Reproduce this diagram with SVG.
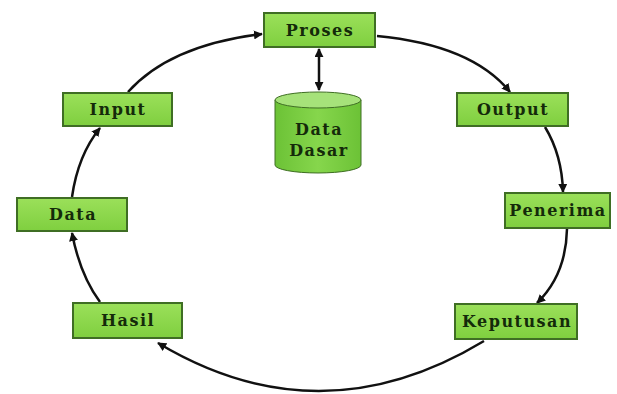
<svg xmlns="http://www.w3.org/2000/svg" width="617" height="394" viewBox="0 0 617 394">
  <defs>
    <linearGradient id="boxFill" x1="0" y1="0" x2="0" y2="1">
      <stop offset="0" stop-color="#9be05a"/>
      <stop offset="1" stop-color="#7fcf3f"/>
    </linearGradient>
    <linearGradient id="cylFill" x1="0" y1="0" x2="1" y2="0">
      <stop offset="0" stop-color="#6cc236"/>
      <stop offset="0.5" stop-color="#86d64c"/>
      <stop offset="1" stop-color="#6cc236"/>
    </linearGradient>
    <marker id="arrow" viewBox="0 0 10 10" refX="9" refY="5" markerWidth="9" markerHeight="9" orient="auto-start-reverse" markerUnits="userSpaceOnUse">
      <path d="M0,0 L10,5 L0,10 z" fill="#111"/>
    </marker>
    <style>
      .box { fill: url(#boxFill); stroke: #3f6e24; stroke-width: 2; }
      .label { font-family: "DejaVu Serif", "Liberation Serif", serif; font-weight: bold; font-size: 16px; fill: #142a0a; text-anchor: middle; letter-spacing: 1.5px; }
      .conn { fill: none; stroke: #111; stroke-width: 2.5; marker-end: url(#arrow); }
    </style>
  </defs>
  <rect width="617" height="394" fill="#ffffff"/>

  <g id="connectors">
    <path class="conn" d="M 128 92 Q 170 45 262 34"/>
    <path class="conn" d="M 377 36 Q 472 45 510 92"/>
    <path class="conn" d="M 545 127 Q 562 155 563 192"/>
    <path class="conn" d="M 567 229 Q 566 275 537 303"/>
    <path class="conn" d="M 484 341 Q 320 440 158 343"/>
    <path class="conn" d="M 100 302 Q 80 275 72 233"/>
    <path class="conn" d="M 72 197 Q 78 155 100 128"/>
    <path class="conn" d="M 319 49 L 319 90" marker-start="url(#arrow)"/>
  </g>

  <g id="proses">
    <rect class="box" x="264" y="13" width="111" height="34"/>
    <text class="label" x="320" y="36">Proses</text>
  </g>
  <g id="data-dasar">
    <path d="M 275 100 L 275 165 A 43 8 0 0 0 361 165 L 361 100 Z" fill="url(#cylFill)" stroke="#3f6e24" stroke-width="1"/>
    <ellipse cx="318" cy="100" rx="43" ry="8" fill="#a6e27a" stroke="#3f6e24" stroke-width="1"/>
    <text class="label" x="319" y="135">Data</text>
    <text class="label" x="319" y="156">Dasar</text>
  </g>
  <g id="output">
    <rect class="box" x="457" y="93" width="111" height="33"/>
    <text class="label" x="513" y="115">Output</text>
  </g>
  <g id="penerima">
    <rect class="box" x="505" y="193" width="105" height="35"/>
    <text class="label" x="558" y="216">Penerima</text>
  </g>
  <g id="keputusan">
    <rect class="box" x="455" y="304" width="122" height="35"/>
    <text class="label" x="517" y="327">Keputusan</text>
  </g>
  <g id="hasil">
    <rect class="box" x="73" y="303" width="109" height="35"/>
    <text class="label" x="128" y="326">Hasil</text>
  </g>
  <g id="data">
    <rect class="box" x="17" y="198" width="110" height="33"/>
    <text class="label" x="73" y="220">Data</text>
  </g>
  <g id="input">
    <rect class="box" x="63" y="93" width="109" height="33"/>
    <text class="label" x="118" y="115">Input</text>
  </g>
</svg>
